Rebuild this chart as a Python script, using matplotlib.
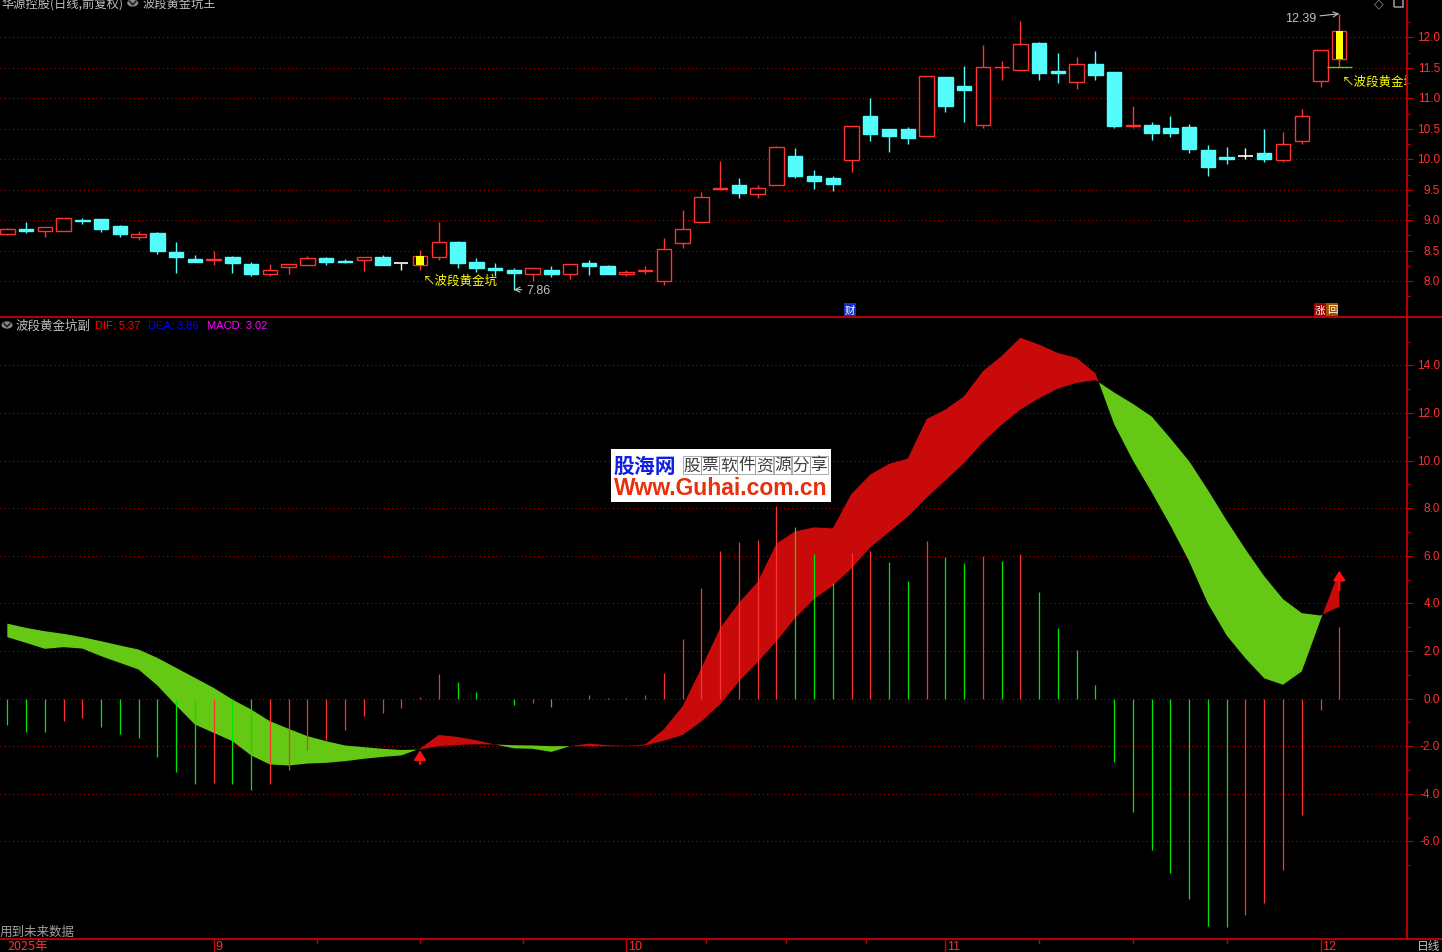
import numpy as np
import matplotlib
matplotlib.use("Agg")
import matplotlib.pyplot as plt
import matplotlib.transforms as mtransforms
from matplotlib.patches import Rectangle, Circle
from matplotlib.lines import Line2D

plt.rcParams['font.family'] = ['Noto Sans CJK SC', 'DejaVu Sans']

# ---- data (daily candles, 2025-08-15 .. 2025-12-02) ----
opens = [8.78, 8.86, 8.83, 8.83, 9.00, 9.02, 8.91, 8.72, 8.79, 8.48,
         8.37, 8.34, 8.40, 8.28, 8.11, 8.24, 8.26, 8.38, 8.33, 8.34,
         8.40, 8.295, 8.27, 8.39, 8.645, 8.32, 8.22, 8.19, 8.11, 8.19,
         8.11, 8.30, 8.25, 8.11, 8.165, 8.00, 8.63, 8.97, 9.52, 9.57,
         9.43, 9.58, 10.06, 9.72, 9.685, 9.99, 10.71, 10.49, 10.49, 10.38,
         11.35, 11.20, 10.57, 11.51, 11.47, 11.91, 11.455, 11.275, 11.56, 11.43,
         10.555, 10.57, 10.52, 10.535, 10.16, 10.03, 10.06, 10.11, 9.985, 10.295,
         11.28, 11.65]
highs = [8.88, 8.97, 8.885, 9.03, 9.04, 9.02, 8.92, 8.83, 8.81, 8.64,
         8.43, 8.49, 8.41, 8.31, 8.28, 8.28, 8.42, 8.40, 8.37, 8.39,
         8.43, 8.295, 8.51, 8.97, 8.66, 8.385, 8.29, 8.22, 8.21, 8.25,
         8.28, 8.35, 8.27, 8.19, 8.25, 8.70, 9.16, 9.47, 9.98, 9.70,
         9.57, 10.22, 10.18, 9.82, 9.73, 10.545, 11.01, 10.49, 10.535, 11.36,
         11.35, 11.53, 11.87, 11.61, 12.27, 11.92, 11.74, 11.68, 11.78, 11.43,
         10.88, 10.62, 10.71, 10.58, 10.24, 10.21, 10.18, 10.49, 10.45, 10.83,
         11.79, 12.39]
lows = [8.75, 8.79, 8.73, 8.83, 8.93, 8.81, 8.72, 8.67, 8.45, 8.13,
        8.31, 8.27, 8.14, 8.08, 8.08, 8.125, 8.26, 8.26, 8.29, 8.17,
        8.26, 8.19, 8.19, 8.355, 8.22, 8.15, 8.09, 7.86, 8.00, 8.07,
        8.04, 8.10, 8.12, 8.09, 8.12, 7.94, 8.55, 8.97, 9.495, 9.36,
        9.36, 9.58, 9.69, 9.51, 9.48, 9.79, 10.30, 10.12, 10.25, 10.38,
        10.77, 10.62, 10.52, 11.31, 11.46, 11.31, 11.26, 11.16, 11.30, 10.51,
        10.52, 10.31, 10.36, 10.11, 9.72, 9.92, 10.00, 9.95, 9.95, 10.25,
        11.19, 11.51]
closes = [8.86, 8.83, 8.885, 9.03, 8.99, 8.85, 8.78, 8.78, 8.49, 8.40,
          8.32, 8.36, 8.29, 8.125, 8.19, 8.28, 8.38, 8.31, 8.32, 8.39,
          8.27, 8.295, 8.415, 8.645, 8.30, 8.22, 8.19, 8.14, 8.21, 8.12,
          8.28, 8.25, 8.12, 8.15, 8.185, 8.52, 8.86, 9.385, 9.53, 9.44,
          9.53, 10.20, 9.72, 9.64, 9.59, 10.545, 10.41, 10.39, 10.345, 11.36,
          10.88, 11.13, 11.51, 11.52, 11.90, 11.42, 11.42, 11.56, 11.39, 10.55,
          10.56, 10.44, 10.43, 10.165, 9.87, 10.01, 10.06, 10.00, 10.25, 10.71,
          11.79, 12.10]
signal_idx = [22, 71]

dif = [2.58, 2.34, 2.09, 2.16, 2.10, 1.78, 1.50, 1.22, 0.55, -0.29,
       -1.09, -1.44, -1.79, -2.39, -2.77, -2.81, -2.73, -2.70, -2.63, -2.53,
       -2.45, -2.39, -2.10, -1.53, -1.61, -1.75, -1.93, -2.09, -2.11, -2.24,
       -2.00, -1.89, -1.96, -1.99, -1.93, -1.29, -0.32, 1.29, 2.97, 4.02,
       4.90, 6.51, 7.03, 7.19, 7.15, 8.60, 9.41, 9.86, 10.08, 11.74,
       12.14, 12.70, 13.75, 14.39, 15.16, 14.87, 14.52, 14.31, 13.67, 11.53,
       10.00, 8.67, 7.27, 5.76, 3.99, 2.65, 1.69, 0.85, 0.58, 1.14,
       3.30, 5.37]
dea = [3.15, 2.97, 2.83, 2.72, 2.58, 2.41, 2.23, 2.06, 1.71, 1.29,
       0.87, 0.45, -0.04, -0.46, -0.95, -1.27, -1.58, -1.79, -1.97, -2.04,
       -2.11, -2.16, -2.14, -2.00, -1.95, -1.92, -1.93, -1.96, -1.97, -2.00,
       -2.00, -2.00, -2.00, -2.00, -1.97, -1.77, -1.53, -0.96, -0.24, 0.72,
       1.53, 2.41, 3.38, 4.18, 4.74, 5.47, 6.35, 6.99, 7.64, 8.44,
       9.16, 9.89, 10.77, 11.50, 12.14, 12.62, 13.02, 13.26, 13.38, 12.86,
       12.38, 11.85, 10.93, 9.97, 8.76, 7.48, 6.27, 5.14, 4.18, 3.59,
       3.49, 3.86]
macd = [-1.12, -1.40, -1.42, -0.95, -0.83, -1.18, -1.50, -1.67, -2.46, -3.10,
        -3.58, -3.54, -3.57, -3.82, -3.60, -3.01, -2.17, -1.75, -1.33, -0.74,
        -0.62, -0.41, 0.08, 1.05, 0.71, 0.29, 0.0, -0.29, -0.20, -0.36,
        -0.02, 0.17, 0.02, 0.01, 0.13, 1.09, 2.52, 4.66, 6.19, 6.56,
        6.66, 8.07, 7.22, 6.06, 4.84, 6.11, 6.19, 5.72, 4.92, 6.61,
        5.93, 5.68, 6.00, 5.80, 6.06, 4.47, 2.96, 2.03, 0.59, -2.67,
        -4.76, -6.37, -7.33, -8.42, -9.55, -9.60, -9.08, -8.59, -7.20, -4.90,
        -0.48, 3.02]

price_ticks = [8.0, 8.5, 9.0, 9.5, 10.0, 10.5, 11.0, 11.5, 12.0]
ind_ticks = [-6.0, -4.0, -2.0, 0.0, 2.0, 4.0, 6.0, 8.0, 10.0, 12.0, 14.0]
month_starts = [11, 33, 50, 70]
month_labels = ['9', '10', '11', '12']

# ---- colours ----
UP = '#ff3232'
DOWN = '#54fcfc'
AXIS = '#c80000'
GRID = '#b40000'
LABEL = '#ff3232'
RIB_RED = '#c80a0a'
RIB_GREEN = '#64c814'
BAR_GREEN = '#00e600'
GRAY = '#c0c0c0'
NUM_FONT = ['Liberation Sans', 'DejaVu Sans']

W, H = 1442, 953


def fx(px):
    return px / W


def fy(py):
    return 1 - py / H


fig = plt.figure(figsize=(W / 100, H / 100), dpi=100, facecolor='black')
ax1 = fig.add_axes([0, fy(318), fx(1407), 318 / H])
ax2 = fig.add_axes([0, fy(940), fx(1407), 622 / H])

n = len(opens)
x = np.arange(n)
for ax in (ax1, ax2):
    ax.set_facecolor('black')
    for s in ax.spines.values():
        s.set_visible(False)
    ax.set_xticks([])
    ax.yaxis.tick_right()
    ax.tick_params(axis='y', which='major', length=4.3, width=0.8, color=AXIS,
                   labelright=False, direction='out')
    ax.tick_params(axis='y', which='minor', length=2.2, width=0.8, color=AXIS, direction='out')
    ax.set_xlim(-0.39, 74.61)

ax1.set_ylim(7.411, 12.632)
ax2.set_ylim(-10.1, 16.03)

for ax, ticks in ((ax1, price_ticks), (ax2, ind_ticks)):
    ax.set_yticks(ticks)
    step = ticks[1] - ticks[0]
    ax.set_yticks([t + step / 2 for t in ticks] + [ticks[0] - step / 2], minor=True)
    ax.set_yticklabels([])
    trans = mtransforms.blended_transform_factory(fig.transFigure, ax.transData)
    for t in ticks:
        ax.axhline(t, color=GRID, lw=0.75, ls=(0, (1, 3)), zorder=0)
        ax.text(fx(1440), t, f"{t:.1f}", transform=trans, ha='right', va='center',
                color=LABEL, fontsize=8.5, family=NUM_FONT, clip_on=False)

# ---- candles ----
body_w = 0.77
for i in range(n):
    o, h, l, c = opens[i], highs[i], lows[i], closes[i]
    if c > o:
        col, face = UP, 'black'
    elif c < o:
        col, face = DOWN, DOWN
    else:
        col, face = 'white', 'white'
    ax1.vlines(i, l, h, color=col, lw=1.0, zorder=2)
    if c == o:
        ax1.hlines(o, i - body_w / 2, i + body_w / 2, color=col, lw=1.2, zorder=3)
    else:
        ax1.add_patch(Rectangle((i - body_w / 2, min(o, c)), body_w, abs(c - o),
                                facecolor=face, edgecolor=col, lw=1.0, zorder=3))
for i in signal_idx:
    o, c = opens[i], closes[i]
    ax1.add_patch(Rectangle((i - 0.19, min(o, c)), 0.38, abs(c - o),
                            facecolor='#ffff00', edgecolor='none', zorder=4))
ax1.hlines(lows[71], 71 - 0.66, 71 + 0.68, color='#00ff00', lw=1.0, zorder=4)

ax1.text(22.16, 8.02, '↖波段黄金坑', color='#ffff00', fontsize=9, va='center', ha='left', zorder=5)
ax1.text(71.14, 11.286, '↖波段黄金坑', color='#ffff00', fontsize=9, va='center', ha='left',
         zorder=5, clip_on=True)
ax1.annotate('7.86', xy=(27, lows[27]), xytext=(27.65, lows[27]), ha='left', va='center',
             color=GRAY, fontsize=9, family=NUM_FONT,
             arrowprops=dict(arrowstyle='->', color=GRAY, lw=0.8, shrinkA=1, shrinkB=0))
ax1.annotate('12.39', xy=(71, highs[71]), xytext=(69.76, 12.32), ha='right', va='center',
             color=GRAY, fontsize=9, family=NUM_FONT,
             arrowprops=dict(arrowstyle='->', color=GRAY, lw=0.8, shrinkA=1, shrinkB=0))

# ---- indicator panel ----
dif_a = np.array(dif)
dea_a = np.array(dea)
ax2.fill_between(x, dif_a, dea_a, where=dif_a >= dea_a, interpolate=True, color=RIB_RED, lw=0, zorder=1)
ax2.fill_between(x, dif_a, dea_a, where=dif_a < dea_a, interpolate=True, color=RIB_GREEN, lw=0, zorder=1)

bar_colors = [BAR_GREEN] + [UP if macd[i] >= macd[i - 1] else BAR_GREEN for i in range(1, n)]
ax2.vlines(x, 0, macd, colors=bar_colors, lw=0.9, zorder=2)

for xi, top, tail in ((22, -2.17, -2.75), (71, dif[-1], 4.55)):
    ax2.annotate('', xy=(xi, top), xytext=(xi, tail),
                 arrowprops=dict(arrowstyle='-|>,head_width=0.35,head_length=0.55',
                                 color='#ff1010', lw=1.6, shrinkA=0, shrinkB=0), zorder=4)

# ---- frame lines ----
for (x0, y0, x1, y1) in ((0, 318, W, 318), (0, 940, W, 940), (1407, 0, 1407, 940)):
    fig.add_artist(Line2D([fx(x0), fx(x1)], [fy(y0), fy(y1)], color=AXIS, lw=1.3,
                          transform=fig.transFigure))

# ---- bottom date axis ----
btrans = mtransforms.blended_transform_factory(ax2.transData, fig.transFigure)
for i, lab in zip(month_starts, month_labels):
    ax2.add_line(Line2D([i, i], [fy(940), fy(953)], color=AXIS, lw=1.0, transform=btrans, clip_on=False))
    ax2.text(i + 0.1, fy(947), lab, transform=btrans, color=LABEL, fontsize=9,
             family=NUM_FONT, ha='left', va='center', clip_on=False)
for a, b in zip(month_starts[:-1], month_starts[1:]):
    for t in np.linspace(a, b, 5)[1:-1]:
        ax2.add_line(Line2D([t, t], [fy(940), fy(944)], color=AXIS, lw=1.0, transform=btrans, clip_on=False))
fig.text(fx(7), fy(947), '2025年', color=LABEL, fontsize=9, ha='left', va='center')
fig.text(fx(1417), fy(947), '日线', color=GRAY, fontsize=8.5, ha='left', va='center')
fig.text(fx(0), fy(932), '用到未来数据', color='#a0a0a0', fontsize=9, ha='left', va='center')


# ---- headers ----
def check_icon(cx, cy):
    fig.add_artist(Circle((fx(cx), fy(cy)), 5.5 / W, transform=fig.transFigure,
                          facecolor='#8a8a8a', edgecolor='none'))
    fig.add_artist(Line2D([fx(cx - 3), fx(cx), fx(cx + 3)], [fy(cy - 1.5), fy(cy + 1.8), fy(cy - 1.5)],
                          color='#202020', lw=1.2, transform=fig.transFigure))


fig.text(fx(1), fy(4), '华源控股(日线,前复权)', color=GRAY, fontsize=8.8, ha='left', va='center')
check_icon(132.7, 4)
fig.text(fx(143), fy(4), '波段黄金坑王', color=GRAY, fontsize=8.8, ha='left', va='center')
fig.text(fx(1374), fy(4), '◇', color='#909090', fontsize=9, ha='left', va='center',
         family=['DejaVu Sans'])
fig.add_artist(Rectangle((fx(1394), fy(8)), 9 / W, 9 / H, transform=fig.transFigure,
                         facecolor='none', edgecolor='#909090', lw=1.2))

check_icon(7, 326)
fig.text(fx(16), fy(326), '波段黄金坑副', color=GRAY, fontsize=9, ha='left', va='center')
fig.text(fx(95), fy(326), f"DIF: {dif[-1]:.2f}", color='#ff0000', fontsize=8, ha='left', va='center', family=NUM_FONT)
fig.text(fx(148), fy(326), f"DEA: {dea[-1]:.2f}", color='#0000ff', fontsize=8, ha='left', va='center', family=NUM_FONT)
fig.text(fx(207), fy(326), f"MACD: {macd[-1]:.2f}", color='#ff00ff', fontsize=8, ha='left', va='center', family=NUM_FONT)


# ---- small event tags ----
def tag(px0, txt, bg):
    fig.add_artist(Rectangle((fx(px0), fy(317)), 12 / W, 13 / H, transform=fig.transFigure,
                             facecolor=bg, edgecolor='none'))
    fig.text(fx(px0 + 6), fy(310.5), txt, color='white', fontsize=7.5, ha='center', va='center')


tag(844, '财', '#1030c8')
tag(1314, '涨', '#a00000')
tag(1326, '回', '#a05000')

# ---- watermark box ----
fig.add_artist(Rectangle((fx(611), fy(503)), 220 / W, 53 / H, transform=fig.transFigure,
                         facecolor='white', edgecolor='none', zorder=10))
fig.text(fx(614), fy(466), '股海网', color='#1020e0', fontsize=15, weight='bold',
         ha='left', va='center', zorder=11)
for k, ch in enumerate('股票软件资源分享'):
    fig.text(fx(692 + k * 18.1), fy(466), ch, color='#404040', fontsize=12, ha='center', va='center',
             zorder=11, bbox=dict(boxstyle='square,pad=0.05', fc='none', ec='#a0a0a0', lw=0.6))
fig.text(fx(721), fy(489), 'Www.Guhai.com.cn', color='#e8300c', fontsize=16.5, weight='bold',
         family=NUM_FONT, ha='center', va='center', zorder=11)

fig.savefig('out.png', dpi=100, facecolor='black')
